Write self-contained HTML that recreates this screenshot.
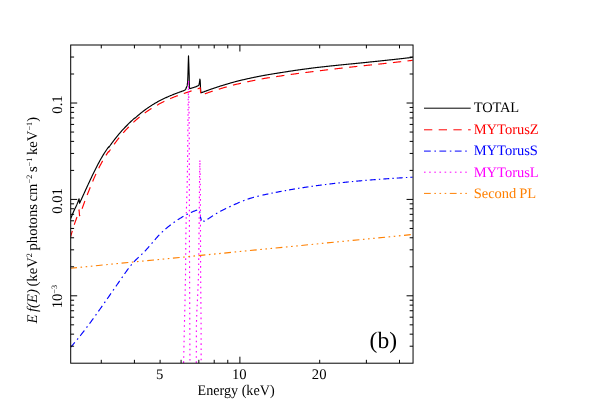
<!DOCTYPE html>
<html><head><meta charset="utf-8"><title>plot</title>
<style>html,body{margin:0;padding:0;background:#fff}body{width:598px;height:402px;position:relative;overflow:hidden;font-family:"Liberation Serif",serif}</style>
</head><body>
<svg width="598" height="402" viewBox="0 0 598 402" style="position:absolute;left:0;top:0;font-family:'Liberation Serif',serif;font-size:14.67px;text-rendering:geometricPrecision;will-change:transform;opacity:0.999">
<defs><clipPath id="c"><rect x="70.7" y="45.0" width="342.35" height="318.2"/></clipPath></defs>
<g clip-path="url(#c)" fill="none" stroke-width="1.15" stroke-linejoin="round">
<path d="M70.70,218.50 L71.22,217.22 L71.74,215.96 L72.27,214.71 L72.79,213.49 L73.31,212.28 L73.83,211.10 L74.35,209.93 L74.88,208.79 L75.40,207.72 L75.92,206.66 L76.44,205.56 L76.96,204.39 L77.48,203.11 L78.01,201.74 L78.53,200.30 L79.05,198.80 L79.55,203.29 L80.05,202.19 L80.55,201.09 L81.05,199.99 L81.55,198.89 L82.05,197.79 L82.56,196.69 L83.06,195.59 L83.56,194.49 L84.06,193.38 L84.56,192.28 L85.06,191.18 L85.56,190.09 L86.06,188.99 L86.56,187.90 L87.06,186.81 L87.56,185.72 L88.06,184.63 L88.57,183.55 L89.07,182.47 L89.57,181.40 L90.07,180.33 L90.57,179.26 L91.07,178.20 L91.57,177.15 L92.07,176.10 L92.57,175.06 L93.07,174.02 L93.57,172.99 L94.07,171.96 L94.58,170.95 L95.08,169.94 L95.58,168.94 L96.08,167.95 L96.58,166.96 L97.08,165.99 L97.58,165.02 L98.08,164.07 L98.58,163.12 L99.08,162.18 L99.58,161.26 L100.09,160.34 L100.59,159.45 L101.09,158.57 L101.59,157.70 L102.09,156.85 L102.59,156.00 L103.09,155.17 L103.59,154.35 L104.09,153.55 L104.59,152.76 L105.09,151.98 L105.59,151.21 L106.10,150.46 L106.60,149.73 L107.10,149.01 L107.60,148.31 L108.10,147.62 L108.60,146.95 L108.80,147.39 L109.30,146.67 L109.80,145.96 L110.31,145.26 L110.81,144.56 L111.31,143.87 L111.81,143.19 L112.32,142.51 L112.82,141.84 L113.32,141.17 L113.82,140.51 L114.32,139.85 L114.83,139.20 L115.33,138.56 L115.83,137.92 L116.33,137.29 L116.84,136.67 L117.34,136.05 L117.84,135.43 L118.34,134.83 L118.84,134.22 L119.35,133.63 L119.85,133.04 L120.35,132.45 L120.85,131.87 L121.35,131.30 L121.86,130.73 L122.36,130.18 L122.86,129.64 L123.36,129.10 L123.87,128.57 L124.37,128.04 L124.87,127.52 L125.37,127.01 L125.87,126.50 L126.38,125.99 L126.88,125.49 L127.38,124.98 L127.88,124.47 L128.39,123.96 L128.89,123.46 L129.39,122.96 L129.89,122.47 L130.39,121.99 L130.90,121.51 L131.40,121.03 L131.90,120.56 L132.40,120.09 L132.91,119.63 L133.41,119.17 L133.91,118.72 L134.41,118.27 L134.60,118.11 L134.91,118.14 L135.00,118.15 L135.42,117.77 L135.92,117.32 L136.42,116.87 L136.92,116.43 L137.43,115.99 L137.93,115.56 L138.43,115.13 L138.93,114.70 L139.43,114.28 L139.94,113.86 L140.44,113.45 L140.94,113.04 L141.44,112.64 L141.95,112.24 L142.45,111.85 L142.95,111.46 L143.45,111.08 L143.95,110.70 L144.46,110.32 L144.96,109.95 L145.46,109.58 L145.96,109.22 L146.46,108.86 L146.97,108.50 L147.47,108.15 L147.97,107.80 L148.47,107.46 L148.98,107.11 L149.48,106.78 L149.98,106.44 L150.48,106.11 L150.98,105.78 L151.49,105.46 L151.99,105.14 L152.49,104.82 L152.99,104.51 L153.50,104.20 L154.00,103.89 L154.50,103.58 L155.00,103.28 L155.50,103.00 L156.01,102.71 L156.51,102.43 L157.01,102.15 L157.51,101.87 L158.02,101.60 L158.52,101.33 L159.02,101.06 L159.52,100.80 L160.02,100.54 L160.53,100.28 L161.03,100.02 L161.53,99.77 L162.03,99.52 L162.54,99.27 L163.04,99.02 L163.54,98.78 L164.04,98.54 L164.54,98.30 L165.05,98.07 L165.55,97.84 L166.05,97.61 L166.55,97.38 L167.05,97.15 L167.56,96.93 L168.06,96.71 L168.56,96.49 L169.06,96.27 L169.57,96.06 L170.07,95.84 L170.57,95.63 L171.07,95.42 L171.57,95.21 L172.08,95.01 L172.58,94.80 L173.08,94.60 L173.58,94.40 L174.09,94.20 L174.59,94.00 L175.09,93.81 L175.59,93.61 L176.09,93.42 L176.60,93.23 L177.10,93.04 L177.60,92.86 L178.10,92.67 L178.61,92.49 L179.11,92.30 L179.61,92.12 L180.11,91.94 L180.61,91.77 L181.12,91.59 L181.62,91.41 L182.12,91.24 L182.62,91.07 L183.13,90.89 L183.60,90.67 L183.63,90.66 L183.63,90.66 L183.66,90.64 L183.70,90.63 L183.73,90.62 L183.76,90.60 L183.79,90.59 L183.83,90.57 L183.86,90.56 L183.89,90.55 L183.92,90.53 L183.95,90.52 L183.99,90.50 L184.02,90.49 L184.05,90.48 L184.08,90.46 L184.11,90.45 L184.13,90.44 L184.15,90.43 L184.18,90.42 L184.21,90.40 L184.24,90.39 L184.28,90.37 L184.31,90.36 L184.34,90.34 L184.37,90.32 L184.40,90.31 L184.44,90.29 L184.47,90.28 L184.50,90.26 L184.53,90.25 L184.56,90.23 L184.60,90.21 L184.63,90.20 L184.63,90.20 L184.66,90.18 L184.69,90.16 L184.73,90.15 L184.76,90.13 L184.79,90.11 L184.82,90.10 L184.85,90.08 L184.89,90.06 L184.92,90.04 L184.95,90.02 L184.98,90.00 L185.02,89.98 L185.05,89.96 L185.08,89.93 L185.11,89.91 L185.13,89.89 L185.14,89.89 L185.18,89.86 L185.21,89.84 L185.24,89.81 L185.27,89.79 L185.30,89.76 L185.34,89.74 L185.37,89.71 L185.40,89.68 L185.43,89.65 L185.47,89.62 L185.50,89.59 L185.53,89.56 L185.56,89.53 L185.59,89.50 L185.63,89.43 L185.64,89.40 L185.66,89.34 L185.69,89.25 L185.72,89.14 L185.75,89.03 L185.79,88.90 L185.82,88.81 L185.85,88.75 L185.88,88.68 L185.92,88.62 L185.95,88.55 L185.98,88.48 L186.01,88.40 L186.04,88.33 L186.08,88.25 L186.11,88.17 L186.14,88.11 L186.14,88.11 L186.17,88.04 L186.21,87.98 L186.24,87.91 L186.27,87.84 L186.30,87.77 L186.33,87.70 L186.37,87.62 L186.40,87.54 L186.43,87.47 L186.46,87.39 L186.49,87.30 L186.53,87.23 L186.56,87.16 L186.59,87.09 L186.62,87.02 L186.64,86.98 L186.66,86.94 L186.69,86.87 L186.72,86.79 L186.75,86.71 L186.78,86.63 L186.82,86.55 L186.85,86.47 L186.88,86.38 L186.91,86.29 L186.94,86.21 L186.98,86.12 L187.01,86.02 L187.04,85.93 L187.07,85.83 L187.11,85.72 L187.14,85.55 L187.14,85.53 L187.17,85.38 L187.20,85.19 L187.23,85.00 L187.27,84.81 L187.30,84.60 L187.33,84.39 L187.36,84.17 L187.39,83.94 L187.43,83.71 L187.46,83.46 L187.49,83.21 L187.52,82.95 L187.56,82.68 L187.59,82.39 L187.62,81.96 L187.65,81.54 L187.65,81.41 L187.68,80.83 L187.72,80.21 L187.75,79.55 L187.78,78.85 L187.81,78.10 L187.85,77.32 L187.88,76.48 L187.91,75.60 L187.94,74.67 L187.97,73.69 L188.01,72.66 L188.04,71.57 L188.07,70.43 L188.10,69.23 L188.13,67.97 L188.15,67.46 L188.17,66.66 L188.20,65.28 L188.23,64.33 L188.26,63.36 L188.30,62.37 L188.33,61.35 L188.36,60.31 L188.39,59.24 L188.42,58.14 L188.46,57.02 L188.49,55.87 L188.52,56.09 L188.55,57.06 L188.58,58.01 L188.62,58.95 L188.65,59.86 L188.65,59.87 L188.68,60.75 L188.71,61.63 L188.75,62.48 L188.78,63.32 L188.81,64.13 L188.84,64.93 L188.87,66.01 L188.91,67.14 L188.94,68.24 L188.97,69.28 L189.00,70.29 L189.04,71.25 L189.07,72.18 L189.10,73.06 L189.13,73.90 L189.15,74.40 L189.16,74.70 L189.20,75.47 L189.23,78.33 L189.26,80.87 L189.29,82.83 L189.32,84.33 L189.36,85.52 L189.39,86.53 L189.42,87.24 L189.45,87.70 L189.49,87.87 L189.52,88.02 L189.55,88.14 L189.58,88.23 L189.61,88.31 L189.65,88.37 L189.65,88.39 L189.68,88.42 L189.71,88.46 L189.74,88.50 L189.77,88.52 L189.81,88.54 L189.84,88.55 L189.87,88.56 L189.90,88.57 L189.94,88.57 L189.97,88.63 L190.00,88.62 L190.16,88.57 L190.66,88.41 L191.16,88.25 L191.66,88.09 L192.16,87.93 L192.67,87.77 L193.17,87.61 L193.67,87.46 L194.17,87.30 L194.68,87.14 L195.18,86.99 L195.68,86.83 L196.18,86.67 L196.30,86.58 L196.33,86.55 L196.37,86.52 L196.40,86.47 L196.43,86.45 L196.46,86.44 L196.50,86.43 L196.53,86.41 L196.56,86.40 L196.59,86.39 L196.63,86.37 L196.66,86.36 L196.68,86.35 L196.69,86.34 L196.72,86.33 L196.76,86.32 L196.79,86.30 L196.82,86.29 L196.85,86.27 L196.89,86.26 L196.92,86.24 L196.95,86.23 L196.98,86.22 L197.02,86.21 L197.05,86.19 L197.08,86.18 L197.11,86.17 L197.15,86.15 L197.18,86.14 L197.19,86.14 L197.21,86.13 L197.24,86.11 L197.28,86.10 L197.31,86.09 L197.34,86.07 L197.37,86.06 L197.41,86.05 L197.44,86.03 L197.47,86.02 L197.50,86.00 L197.54,85.99 L197.57,85.98 L197.60,85.96 L197.63,85.95 L197.67,85.93 L197.69,85.92 L197.70,85.92 L197.73,85.90 L197.76,85.89 L197.80,85.87 L197.83,85.86 L197.86,85.84 L197.89,85.82 L197.93,85.81 L197.96,85.79 L197.99,85.77 L198.03,85.76 L198.06,85.74 L198.09,85.72 L198.12,85.71 L198.16,85.69 L198.19,85.67 L198.19,85.67 L198.22,85.65 L198.25,85.64 L198.29,85.62 L198.30,85.61 L198.32,85.60 L198.35,85.58 L198.38,85.56 L198.42,85.55 L198.45,85.53 L198.48,85.51 L198.51,85.49 L198.55,85.47 L198.58,85.45 L198.61,85.42 L198.64,85.38 L198.68,85.33 L198.69,85.30 L198.71,85.28 L198.74,85.23 L198.77,85.17 L198.81,85.11 L198.84,85.05 L198.87,84.98 L198.90,84.91 L198.94,84.84 L198.97,84.76 L199.00,84.68 L199.03,84.59 L199.07,84.50 L199.10,84.40 L199.13,84.27 L199.16,84.14 L199.20,84.00 L199.20,83.99 L199.23,83.83 L199.26,83.66 L199.29,83.48 L199.33,83.29 L199.36,83.08 L199.39,82.85 L199.42,82.61 L199.46,82.34 L199.49,82.06 L199.52,81.76 L199.56,81.43 L199.59,81.08 L199.62,80.83 L199.65,80.64 L199.69,80.44 L199.70,80.37 L199.72,80.24 L199.75,80.04 L199.78,79.82 L199.82,79.60 L199.85,79.37 L199.88,79.14 L199.91,79.10 L199.95,79.37 L199.98,79.62 L200.01,79.86 L200.04,80.09 L200.08,80.32 L200.11,80.53 L200.14,80.73 L200.17,80.96 L200.20,81.15 L200.21,81.26 L200.24,81.80 L200.27,82.34 L200.30,82.87 L200.34,83.39 L200.37,84.24 L200.40,85.21 L200.43,86.06 L200.47,86.80 L200.50,87.46 L200.53,88.06 L200.56,88.60 L200.60,89.11 L200.63,89.51 L200.66,89.89 L200.69,90.28 L200.73,90.66 L200.76,91.04 L200.79,91.42 L200.82,91.79 L200.86,92.16 L200.89,92.53 L200.90,92.65 L200.92,92.66 L200.95,92.67 L200.99,92.68 L201.02,92.68 L201.05,92.68 L201.08,92.69 L201.12,92.72 L201.15,92.77 L201.40,92.73 L201.60,92.66 L201.90,92.54 L202.40,92.35 L202.90,92.16 L203.40,91.96 L203.90,91.77 L204.10,91.70 L204.40,91.59 L204.90,91.40 L205.40,91.21 L205.90,91.03 L206.41,90.84 L206.91,90.66 L207.41,90.48 L207.91,90.29 L208.41,90.11 L208.91,89.93 L209.41,89.76 L209.91,89.58 L210.41,89.40 L210.91,89.23 L211.41,89.05 L211.91,88.88 L212.41,88.71 L212.91,88.53 L213.41,88.36 L213.91,88.19 L214.41,88.02 L214.91,87.86 L215.41,87.69 L215.91,87.52 L216.41,87.36 L216.92,87.20 L217.42,87.03 L217.92,86.87 L218.42,86.71 L218.92,86.55 L219.42,86.39 L219.92,86.23 L220.42,86.07 L220.92,85.92 L221.42,85.76 L221.92,85.60 L222.42,85.45 L222.92,85.30 L223.42,85.15 L223.92,84.99 L224.42,84.84 L224.92,84.69 L225.42,84.54 L225.92,84.39 L226.42,84.24 L226.92,84.09 L227.42,83.94 L227.93,83.79 L228.43,83.64 L228.93,83.49 L229.43,83.35 L229.93,83.20 L230.43,83.06 L230.93,82.91 L231.43,82.77 L231.93,82.63 L232.43,82.49 L232.93,82.35 L233.43,82.21 L233.93,82.07 L234.43,81.93 L234.93,81.79 L235.43,81.66 L235.93,81.53 L236.43,81.41 L236.93,81.28 L237.43,81.15 L237.93,81.03 L238.44,80.90 L238.94,80.78 L239.44,80.66 L239.94,80.53 L240.44,80.41 L240.94,80.29 L241.44,80.17 L241.94,80.05 L242.44,79.93 L242.94,79.81 L243.44,79.70 L243.94,79.58 L244.44,79.46 L244.94,79.35 L245.44,79.23 L245.94,79.12 L246.44,79.00 L246.94,78.89 L247.44,78.78 L247.94,78.67 L248.44,78.56 L248.95,78.45 L249.45,78.34 L249.95,78.23 L250.45,78.12 L250.95,78.01 L251.45,77.91 L251.95,77.80 L252.45,77.69 L252.95,77.59 L253.45,77.48 L253.95,77.38 L254.45,77.28 L254.95,77.17 L255.45,77.07 L255.95,76.97 L256.45,76.87 L256.95,76.77 L257.45,76.67 L257.95,76.57 L258.45,76.47 L258.95,76.37 L259.46,76.28 L259.96,76.18 L260.46,76.08 L260.96,75.99 L261.46,75.89 L261.96,75.80 L262.00,75.79 L262.46,75.70 L262.96,75.61 L263.46,75.52 L263.96,75.42 L264.46,75.33 L264.96,75.24 L265.46,75.15 L265.96,75.06 L266.46,74.97 L266.96,74.89 L267.46,74.80 L267.96,74.71 L268.46,74.63 L268.96,74.54 L269.46,74.46 L269.96,74.37 L270.47,74.29 L270.97,74.21 L271.47,74.12 L271.97,74.04 L272.47,73.96 L272.97,73.88 L273.47,73.80 L273.97,73.71 L274.47,73.63 L274.97,73.55 L275.47,73.47 L275.97,73.40 L276.47,73.32 L276.97,73.24 L277.47,73.16 L277.97,73.08 L278.47,73.01 L278.97,72.93 L279.47,72.85 L279.97,72.78 L280.47,72.69 L280.98,72.61 L281.48,72.53 L281.98,72.45 L282.48,72.37 L282.98,72.29 L283.48,72.21 L283.98,72.12 L284.48,72.04 L284.98,71.97 L285.48,71.89 L285.98,71.81 L286.48,71.73 L286.98,71.65 L287.48,71.57 L287.98,71.49 L288.48,71.42 L288.98,71.34 L289.48,71.26 L289.98,71.19 L290.48,71.11 L290.98,71.04 L291.49,70.96 L291.99,70.88 L292.49,70.81 L292.99,70.74 L293.49,70.66 L293.99,70.59 L294.49,70.51 L294.99,70.44 L295.49,70.37 L295.99,70.29 L296.49,70.22 L296.99,70.15 L297.49,70.08 L297.99,70.01 L298.49,69.94 L298.99,69.86 L299.49,69.79 L299.99,69.72 L300.49,69.65 L300.99,69.58 L301.49,69.51 L302.00,69.44 L302.50,69.38 L303.00,69.31 L303.50,69.24 L304.00,69.17 L304.50,69.10 L305.00,69.03 L305.50,68.97 L306.00,68.90 L306.50,68.83 L307.00,68.77 L307.50,68.70 L308.00,68.63 L308.50,68.57 L309.00,68.50 L309.50,68.44 L310.00,68.37 L310.50,68.31 L311.00,68.24 L311.50,68.18 L312.00,68.11 L312.50,68.05 L313.01,67.98 L313.51,67.92 L314.01,67.86 L314.51,67.79 L315.01,67.73 L315.51,67.67 L316.01,67.61 L316.51,67.55 L317.01,67.50 L317.51,67.44 L318.01,67.38 L318.51,67.32 L319.01,67.26 L319.51,67.21 L320.01,67.15 L320.51,67.09 L321.01,67.04 L321.51,66.98 L322.01,66.92 L322.51,66.87 L323.01,66.81 L323.52,66.76 L324.02,66.70 L324.52,66.64 L325.02,66.59 L325.52,66.53 L326.02,66.48 L326.52,66.42 L327.02,66.37 L327.52,66.32 L328.02,66.26 L328.52,66.21 L329.02,66.15 L329.52,66.10 L330.02,66.05 L330.52,65.99 L331.02,65.94 L331.52,65.89 L332.02,65.83 L332.52,65.78 L333.02,65.73 L333.52,65.67 L334.03,65.62 L334.53,65.57 L335.03,65.52 L335.53,65.47 L336.03,65.41 L336.53,65.36 L337.03,65.31 L337.53,65.26 L338.03,65.21 L338.53,65.16 L339.03,65.10 L339.53,65.05 L340.03,65.00 L340.53,64.95 L341.03,64.90 L341.53,64.85 L342.03,64.80 L342.53,64.75 L343.03,64.70 L343.53,64.65 L344.03,64.60 L344.54,64.55 L345.04,64.50 L345.54,64.45 L346.04,64.40 L346.54,64.35 L347.04,64.30 L347.54,64.25 L348.04,64.20 L348.54,64.15 L349.04,64.10 L349.54,64.05 L350.04,64.00 L350.54,63.96 L351.04,63.91 L351.54,63.86 L352.04,63.81 L352.54,63.76 L353.04,63.71 L353.54,63.66 L354.04,63.61 L354.54,63.57 L355.04,63.52 L355.55,63.47 L356.05,63.42 L356.55,63.37 L357.05,63.32 L357.55,63.28 L358.05,63.23 L358.55,63.18 L359.05,63.13 L359.55,63.08 L360.05,63.04 L360.55,62.98 L361.05,62.93 L361.55,62.88 L362.05,62.83 L362.55,62.77 L363.05,62.72 L363.55,62.67 L364.05,62.62 L364.55,62.57 L365.05,62.51 L365.55,62.46 L366.06,62.41 L366.56,62.36 L367.06,62.31 L367.56,62.25 L368.06,62.20 L368.56,62.15 L369.06,62.10 L369.56,62.05 L370.06,61.99 L370.56,61.94 L371.06,61.89 L371.56,61.84 L372.06,61.79 L372.56,61.73 L373.06,61.68 L373.56,61.63 L374.06,61.58 L374.56,61.53 L375.06,61.47 L375.56,61.42 L376.06,61.37 L376.57,61.32 L377.07,61.26 L377.57,61.21 L378.07,61.16 L378.57,61.11 L379.07,61.06 L379.57,61.00 L380.07,60.95 L380.57,60.90 L381.07,60.84 L381.57,60.79 L382.07,60.74 L382.57,60.69 L383.07,60.63 L383.57,60.58 L384.07,60.53 L384.57,60.47 L385.07,60.42 L385.57,60.37 L386.07,60.31 L386.57,60.26 L387.08,60.21 L387.58,60.15 L388.08,60.10 L388.58,60.05 L389.08,59.99 L389.58,59.94 L390.08,59.89 L390.58,59.83 L391.08,59.78 L391.58,59.72 L392.08,59.67 L392.58,59.61 L393.08,59.56 L393.58,59.50 L394.08,59.45 L394.58,59.40 L395.08,59.34 L395.58,59.29 L396.08,59.23 L396.58,59.17 L397.08,59.12 L397.58,59.06 L398.09,59.01 L398.59,58.95 L399.09,58.90 L399.59,58.84 L400.09,58.78 L400.59,58.73 L401.09,58.67 L401.59,58.62 L402.09,58.56 L402.59,58.50 L403.09,58.45 L403.59,58.39 L404.09,58.34 L404.59,58.28 L405.09,58.22 L405.59,58.16 L406.09,58.11 L406.59,58.05 L407.09,57.99 L407.59,57.93 L408.09,57.88 L408.60,57.82 L409.10,57.76 L409.60,57.70 L410.10,57.64 L410.60,57.58 L411.10,57.53 L411.60,57.47 L412.10,57.41 L412.60,57.35" stroke="#000"/>
<path d="M70.70,236.62 L71.22,234.72 L71.74,232.88 L72.27,231.09 L72.79,229.35 L73.31,227.66 L73.83,226.01 L74.35,224.40 L74.88,222.86 L75.40,221.42 L75.92,220.00 L76.44,218.56 L76.96,217.01 L77.48,215.34 L78.01,213.57 L78.53,211.71 L79.05,209.79 L79.55,215.78 L80.05,214.35 L80.55,212.94 L81.05,211.53 L81.55,210.13 L82.05,208.74 L82.56,207.36 L83.06,205.99 L83.56,204.62 L84.06,203.26 L84.56,201.92 L85.06,200.58 L85.56,199.25 L86.06,197.92 L86.56,196.61 L87.06,195.31 L87.56,194.02 L88.06,192.73 L88.57,191.46 L89.07,190.20 L89.57,188.94 L90.07,187.70 L90.57,186.46 L91.07,185.24 L91.57,184.03 L92.07,182.83 L92.57,181.64 L93.07,180.46 L93.57,179.29 L94.07,178.13 L94.58,176.99 L95.08,175.86 L95.58,174.78 L96.08,173.70 L96.58,172.64 L97.08,171.59 L97.58,170.56 L98.08,169.54 L98.58,168.53 L99.08,167.53 L99.58,166.55 L100.09,165.59 L100.59,164.64 L101.09,163.70 L101.59,162.78 L102.09,161.88 L102.59,160.99 L103.09,160.11 L103.59,159.26 L104.09,158.41 L104.59,157.59 L105.09,156.77 L105.59,155.96 L106.10,155.17 L106.60,154.39 L107.10,153.63 L107.60,152.89 L108.10,152.17 L108.60,151.46 L108.80,151.96 L109.30,151.20 L109.80,150.46 L110.31,149.72 L110.81,148.99 L111.31,148.27 L111.81,147.55 L112.32,146.84 L112.82,146.12 L113.32,145.41 L113.82,144.71 L114.32,144.02 L114.83,143.33 L115.33,142.65 L115.83,141.98 L116.33,141.31 L116.84,140.65 L117.34,140.00 L117.84,139.35 L118.34,138.71 L118.84,138.08 L119.35,137.46 L119.85,136.84 L120.35,136.22 L120.85,135.62 L121.35,135.02 L121.86,134.42 L122.36,133.84 L122.86,133.26 L123.36,132.69 L123.87,132.12 L124.37,131.56 L124.87,131.00 L125.37,130.45 L125.87,129.91 L126.38,129.37 L126.88,128.84 L127.38,128.31 L127.88,127.78 L128.39,127.27 L128.89,126.75 L129.39,126.24 L129.89,125.74 L130.39,125.24 L130.90,124.75 L131.40,124.26 L131.90,123.78 L132.40,123.30 L132.91,122.83 L133.41,122.36 L133.91,121.90 L134.41,121.44 L134.60,121.27 L134.91,121.00 L135.00,120.93 L135.42,120.55 L135.92,120.11 L136.42,119.67 L136.92,119.23 L137.43,118.80 L137.93,118.38 L138.43,117.96 L138.93,117.54 L139.43,117.13 L139.94,116.72 L140.44,116.32 L140.94,115.92 L141.44,115.53 L141.95,115.14 L142.45,114.75 L142.95,114.36 L143.45,113.98 L143.95,113.60 L144.46,113.23 L144.96,112.86 L145.46,112.50 L145.96,112.14 L146.46,111.78 L146.97,111.43 L147.47,111.09 L147.97,110.75 L148.47,110.41 L148.98,110.08 L149.48,109.75 L149.98,109.42 L150.48,109.10 L150.98,108.78 L151.49,108.47 L151.99,108.16 L152.49,107.85 L152.99,107.55 L153.50,107.25 L154.00,106.96 L154.50,106.66 L155.00,106.37 L155.50,106.08 L156.01,105.78 L156.51,105.49 L157.01,105.20 L157.51,104.92 L158.02,104.64 L158.52,104.36 L159.02,104.08 L159.52,103.81 L160.02,103.54 L160.53,103.27 L161.03,103.01 L161.53,102.74 L162.03,102.48 L162.54,102.22 L163.04,101.97 L163.54,101.72 L164.04,101.47 L164.54,101.22 L165.05,100.97 L165.55,100.73 L166.05,100.49 L166.55,100.25 L167.05,100.02 L167.56,99.78 L168.06,99.55 L168.56,99.32 L169.06,99.09 L169.57,98.87 L170.07,98.65 L170.57,98.44 L171.07,98.23 L171.57,98.02 L172.08,97.82 L172.58,97.61 L173.08,97.41 L173.58,97.22 L174.09,97.02 L174.59,96.82 L175.09,96.63 L175.59,96.44 L176.09,96.25 L176.60,96.06 L177.10,95.87 L177.60,95.68 L178.10,95.50 L178.61,95.32 L179.11,95.14 L179.61,94.96 L180.11,94.78 L180.61,94.60 L181.12,94.42 L181.62,94.25 L182.12,94.08 L182.62,93.90 L183.13,93.73 L183.60,93.57 L183.63,93.56 L183.63,93.56 L183.66,93.55 L183.70,93.54 L183.73,93.53 L183.76,93.52 L183.79,93.50 L183.83,93.49 L183.86,93.48 L183.89,93.47 L183.92,93.46 L183.95,93.45 L183.99,93.44 L184.02,93.43 L184.05,93.42 L184.08,93.41 L184.11,93.40 L184.13,93.39 L184.15,93.38 L184.18,93.37 L184.21,93.36 L184.24,93.35 L184.28,93.34 L184.31,93.33 L184.34,93.32 L184.37,93.31 L184.40,93.30 L184.44,93.29 L184.47,93.28 L184.50,93.27 L184.53,93.26 L184.56,93.24 L184.60,93.23 L184.63,93.22 L184.63,93.22 L184.66,93.21 L184.69,93.20 L184.73,93.19 L184.76,93.18 L184.79,93.17 L184.82,93.16 L184.85,93.15 L184.89,93.14 L184.92,93.13 L184.95,93.12 L184.98,93.10 L185.02,93.09 L185.05,93.08 L185.08,93.07 L185.11,93.06 L185.13,93.05 L185.14,93.05 L185.18,93.04 L185.21,93.03 L185.24,93.01 L185.27,93.00 L185.30,92.99 L185.34,92.98 L185.37,92.97 L185.40,92.96 L185.43,92.95 L185.47,92.94 L185.50,92.93 L185.53,92.91 L185.56,92.90 L185.59,92.89 L185.63,92.88 L185.64,92.88 L185.66,92.87 L185.69,92.86 L185.72,92.85 L185.75,92.84 L185.79,92.82 L185.82,92.81 L185.85,92.80 L185.88,92.79 L185.92,92.78 L185.95,92.77 L185.98,92.76 L186.01,92.75 L186.04,92.74 L186.08,92.72 L186.11,92.71 L186.14,92.70 L186.14,92.70 L186.17,92.69 L186.21,92.68 L186.24,92.67 L186.27,92.66 L186.30,92.65 L186.33,92.64 L186.37,92.62 L186.40,92.61 L186.43,92.60 L186.46,92.59 L186.49,92.58 L186.53,92.57 L186.56,92.56 L186.59,92.55 L186.62,92.54 L186.64,92.53 L186.66,92.52 L186.69,92.51 L186.72,92.50 L186.75,92.49 L186.78,92.48 L186.82,92.47 L186.85,92.46 L186.88,92.45 L186.91,92.44 L186.94,92.42 L186.98,92.41 L187.01,92.40 L187.04,92.39 L187.07,92.38 L187.11,92.37 L187.14,92.36 L187.14,92.36 L187.17,92.35 L187.20,92.34 L187.23,92.33 L187.27,92.31 L187.30,92.30 L187.33,92.29 L187.36,92.28 L187.39,92.27 L187.43,92.26 L187.46,92.25 L187.49,92.24 L187.52,92.23 L187.56,92.22 L187.59,92.20 L187.62,92.19 L187.65,92.18 L187.65,92.18 L187.68,92.17 L187.72,92.16 L187.75,92.15 L187.78,92.14 L187.81,92.13 L187.85,92.12 L187.88,92.11 L187.91,92.09 L187.94,92.08 L187.97,92.07 L188.01,92.06 L188.04,92.05 L188.07,92.04 L188.10,92.03 L188.13,92.02 L188.15,92.01 L188.17,92.01 L188.20,92.00 L188.23,91.99 L188.26,91.97 L188.30,91.96 L188.33,91.95 L188.36,91.94 L188.39,91.93 L188.42,91.92 L188.46,91.91 L188.49,91.90 L188.52,91.89 L188.55,91.88 L188.58,91.87 L188.62,91.85 L188.65,91.84 L188.65,91.84 L188.68,91.83 L188.71,91.82 L188.75,91.81 L188.78,91.80 L188.81,91.79 L188.84,91.78 L188.87,91.77 L188.91,91.76 L188.94,91.75 L188.97,91.73 L189.00,91.72 L189.04,91.71 L189.07,91.70 L189.10,91.69 L189.13,91.68 L189.15,91.67 L189.16,91.67 L189.20,91.66 L189.23,91.65 L189.26,91.64 L189.29,91.63 L189.32,91.61 L189.36,91.60 L189.39,91.59 L189.42,91.58 L189.45,91.57 L189.49,91.56 L189.52,91.55 L189.55,91.54 L189.58,91.53 L189.61,91.52 L189.65,91.51 L189.65,91.50 L189.68,91.50 L189.71,91.48 L189.74,91.47 L189.77,91.46 L189.81,91.45 L189.84,91.44 L189.87,91.43 L189.90,91.42 L189.94,91.41 L189.97,91.40 L190.00,91.39 L190.16,91.33 L190.66,91.17 L191.16,91.00 L191.66,90.83 L192.16,90.66 L192.67,90.50 L193.17,90.33 L193.67,90.16 L194.17,90.00 L194.68,89.83 L195.18,89.66 L195.68,89.50 L196.18,89.33 L196.30,89.29 L196.33,89.28 L196.37,89.27 L196.40,89.26 L196.43,89.25 L196.46,89.24 L196.50,89.23 L196.53,89.22 L196.56,89.21 L196.59,89.20 L196.63,89.19 L196.66,89.18 L196.68,89.17 L196.69,89.16 L196.72,89.15 L196.76,89.14 L196.79,89.13 L196.82,89.12 L196.85,89.11 L196.89,89.10 L196.92,89.09 L196.95,89.08 L196.98,89.07 L197.02,89.06 L197.05,89.05 L197.08,89.04 L197.11,89.02 L197.15,89.01 L197.18,89.00 L197.19,89.00 L197.21,88.99 L197.24,88.98 L197.28,88.97 L197.31,88.96 L197.34,88.95 L197.37,88.94 L197.41,88.93 L197.44,88.92 L197.47,88.91 L197.50,88.90 L197.54,88.88 L197.57,88.87 L197.60,88.86 L197.63,88.85 L197.67,88.84 L197.69,88.83 L197.70,88.83 L197.73,88.82 L197.76,88.81 L197.80,88.80 L197.83,88.79 L197.86,88.78 L197.89,88.77 L197.93,88.76 L197.96,88.74 L197.99,88.73 L198.03,88.72 L198.06,88.71 L198.09,88.70 L198.12,88.69 L198.16,88.68 L198.19,88.67 L198.19,88.67 L198.22,88.66 L198.25,88.65 L198.29,88.64 L198.30,88.63 L198.32,88.62 L198.35,88.60 L198.38,88.59 L198.42,88.58 L198.45,88.57 L198.48,88.56 L198.51,88.54 L198.55,88.53 L198.58,88.52 L198.61,88.51 L198.64,88.50 L198.68,88.48 L198.69,88.48 L198.71,88.47 L198.74,88.46 L198.77,88.45 L198.81,88.43 L198.84,88.42 L198.87,88.41 L198.90,88.39 L198.94,88.38 L198.97,88.37 L199.00,88.36 L199.03,88.34 L199.07,88.33 L199.10,88.32 L199.13,88.30 L199.16,88.29 L199.20,88.28 L199.20,88.28 L199.23,88.26 L199.26,88.25 L199.29,88.23 L199.33,88.22 L199.36,88.20 L199.39,88.18 L199.42,88.17 L199.46,88.15 L199.49,88.13 L199.52,88.12 L199.56,88.10 L199.59,88.08 L199.62,88.06 L199.65,88.04 L199.69,88.02 L199.70,88.02 L199.72,88.00 L199.75,87.98 L199.78,87.96 L199.82,87.94 L199.85,87.92 L199.88,87.89 L199.91,87.87 L199.95,87.84 L199.98,87.82 L200.01,87.79 L200.04,87.77 L200.08,87.75 L200.11,87.72 L200.14,87.70 L200.17,87.68 L200.20,87.67 L200.21,87.73 L200.24,88.10 L200.27,88.46 L200.30,88.82 L200.34,89.19 L200.37,89.55 L200.40,89.92 L200.43,90.28 L200.47,90.64 L200.50,91.01 L200.53,91.37 L200.56,91.74 L200.60,92.11 L200.63,92.47 L200.66,92.84 L200.69,93.21 L200.73,93.57 L200.76,93.94 L200.79,94.31 L200.82,94.68 L200.86,95.05 L200.89,95.42 L200.90,95.53" stroke="#f00" stroke-dasharray="8.27 6.365" stroke-dashoffset="2.3"/>
<path d="M200.90,95.53 L200.92,95.52 L200.95,95.50 L200.99,95.49 L201.02,95.47 L201.05,95.45 L201.08,95.43 L201.12,95.41 L201.15,95.40 L201.40,95.26 L201.60,95.17 L201.90,95.03 L202.40,94.82 L202.90,94.61 L203.40,94.40 L203.90,94.20 L204.10,94.12 L204.40,94.00 L204.90,93.81 L205.40,93.63 L205.90,93.45 L206.41,93.27 L206.91,93.09 L207.41,92.92 L207.91,92.74 L208.41,92.57 L208.91,92.40 L209.41,92.22 L209.91,92.05 L210.41,91.88 L210.91,91.72 L211.41,91.55 L211.91,91.38 L212.41,91.22 L212.91,91.06 L213.41,90.89 L213.91,90.73 L214.41,90.57 L214.91,90.41 L215.41,90.25 L215.91,90.09 L216.41,89.94 L216.92,89.78 L217.42,89.62 L217.92,89.47 L218.42,89.31 L218.92,89.16 L219.42,89.01 L219.92,88.85 L220.42,88.70 L220.92,88.55 L221.42,88.40 L221.92,88.25 L222.42,88.10 L222.92,87.96 L223.42,87.81 L223.92,87.66 L224.42,87.52 L224.92,87.37 L225.42,87.23 L225.92,87.09 L226.42,86.95 L226.92,86.80 L227.42,86.66 L227.93,86.53 L228.43,86.39 L228.93,86.25 L229.43,86.11 L229.93,85.98 L230.43,85.84 L230.93,85.71 L231.43,85.58 L231.93,85.44 L232.43,85.31 L232.93,85.18 L233.43,85.05 L233.93,84.92 L234.43,84.80 L234.93,84.67 L235.43,84.55 L235.93,84.42 L236.43,84.30 L236.93,84.18 L237.43,84.06 L237.93,83.94 L238.44,83.82 L238.94,83.70 L239.44,83.59 L239.94,83.47 L240.44,83.35 L240.94,83.24 L241.44,83.12 L241.94,83.01 L242.44,82.90 L242.94,82.78 L243.44,82.67 L243.94,82.56 L244.44,82.45 L244.94,82.34 L245.44,82.23 L245.94,82.12 L246.44,82.01 L246.94,81.90 L247.44,81.79 L247.94,81.68 L248.44,81.58 L248.95,81.47 L249.45,81.36 L249.95,81.26 L250.45,81.15 L250.95,81.05 L251.45,80.95 L251.95,80.84 L252.45,80.74 L252.95,80.64 L253.45,80.54 L253.95,80.44 L254.45,80.34 L254.95,80.24 L255.45,80.14 L255.95,80.04 L256.45,79.94 L256.95,79.84 L257.45,79.74 L257.95,79.65 L258.45,79.55 L258.95,79.45 L259.46,79.36 L259.96,79.26 L260.46,79.17 L260.96,79.08 L261.46,78.98 L261.96,78.89 L262.00,78.88 L262.46,78.80 L262.96,78.71 L263.46,78.62 L263.96,78.52 L264.46,78.43 L264.96,78.34 L265.46,78.26 L265.96,78.18 L266.46,78.10 L266.96,78.02 L267.46,77.94 L267.96,77.86 L268.46,77.78 L268.96,77.70 L269.46,77.62 L269.96,77.54 L270.47,77.46 L270.97,77.39 L271.47,77.31 L271.97,77.23 L272.47,77.16 L272.97,77.08 L273.47,77.01 L273.97,76.93 L274.47,76.86 L274.97,76.78 L275.47,76.71 L275.97,76.64 L276.47,76.57 L276.97,76.49 L277.47,76.42 L277.97,76.35 L278.47,76.28 L278.97,76.21 L279.47,76.14 L279.97,76.07 L280.47,75.99 L280.98,75.92 L281.48,75.84 L281.98,75.76 L282.48,75.69 L282.98,75.61 L283.48,75.53 L283.98,75.46 L284.48,75.38 L284.98,75.31 L285.48,75.23 L285.98,75.16 L286.48,75.09 L286.98,75.01 L287.48,74.94 L287.98,74.87 L288.48,74.79 L288.98,74.72 L289.48,74.65 L289.98,74.58 L290.48,74.51 L290.98,74.44 L291.49,74.37 L291.99,74.30 L292.49,74.23 L292.99,74.16 L293.49,74.09 L293.99,74.02 L294.49,73.95 L294.99,73.88 L295.49,73.81 L295.99,73.75 L296.49,73.68 L296.99,73.61 L297.49,73.54 L297.99,73.48 L298.49,73.41 L298.99,73.35 L299.49,73.28 L299.99,73.21 L300.49,73.15 L300.99,73.08 L301.49,73.02 L302.00,72.96 L302.50,72.89 L303.00,72.83 L303.50,72.76 L304.00,72.70 L304.50,72.64 L305.00,72.58 L305.50,72.51 L306.00,72.45 L306.50,72.39 L307.00,72.33 L307.50,72.26 L308.00,72.20 L308.50,72.14 L309.00,72.08 L309.50,72.02 L310.00,71.96 L310.50,71.90 L311.00,71.84 L311.50,71.78 L312.00,71.72 L312.50,71.66 L313.01,71.60 L313.51,71.54 L314.01,71.49 L314.51,71.43 L315.01,71.37 L315.51,71.30 L316.01,71.24 L316.51,71.17 L317.01,71.11 L317.51,71.05 L318.01,70.98 L318.51,70.92 L319.01,70.85 L319.51,70.79 L320.01,70.73 L320.51,70.66 L321.01,70.60 L321.51,70.54 L322.01,70.47 L322.51,70.41 L323.01,70.35 L323.52,70.29 L324.02,70.23 L324.52,70.16 L325.02,70.10 L325.52,70.04 L326.02,69.98 L326.52,69.92 L327.02,69.86 L327.52,69.80 L328.02,69.74 L328.52,69.67 L329.02,69.61 L329.52,69.55 L330.02,69.49 L330.52,69.43 L331.02,69.37 L331.52,69.31 L332.02,69.26 L332.52,69.20 L333.02,69.14 L333.52,69.08 L334.03,69.02 L334.53,68.96 L335.03,68.90 L335.53,68.84 L336.03,68.78 L336.53,68.73 L337.03,68.67 L337.53,68.61 L338.03,68.55 L338.53,68.49 L339.03,68.44 L339.53,68.38 L340.03,68.32 L340.53,68.26 L341.03,68.21 L341.53,68.15 L342.03,68.09 L342.53,68.03 L343.03,67.98 L343.53,67.92 L344.03,67.86 L344.54,67.81 L345.04,67.75 L345.54,67.69 L346.04,67.64 L346.54,67.58 L347.04,67.53 L347.54,67.47 L348.04,67.41 L348.54,67.36 L349.04,67.30 L349.54,67.24 L350.04,67.19 L350.54,67.13 L351.04,67.08 L351.54,67.02 L352.04,66.97 L352.54,66.91 L353.04,66.86 L353.54,66.80 L354.04,66.74 L354.54,66.69 L355.04,66.63 L355.55,66.58 L356.05,66.52 L356.55,66.47 L357.05,66.41 L357.55,66.36 L358.05,66.30 L358.55,66.25 L359.05,66.19 L359.55,66.14 L360.05,66.08 L360.55,66.03 L361.05,65.98 L361.55,65.93 L362.05,65.87 L362.55,65.82 L363.05,65.77 L363.55,65.72 L364.05,65.66 L364.55,65.61 L365.05,65.56 L365.55,65.51 L366.06,65.45 L366.56,65.40 L367.06,65.35 L367.56,65.30 L368.06,65.24 L368.56,65.19 L369.06,65.14 L369.56,65.09 L370.06,65.03 L370.56,64.98 L371.06,64.93 L371.56,64.88 L372.06,64.82 L372.56,64.77 L373.06,64.72 L373.56,64.67 L374.06,64.61 L374.56,64.56 L375.06,64.51 L375.56,64.45 L376.06,64.40 L376.57,64.35 L377.07,64.30 L377.57,64.24 L378.07,64.19 L378.57,64.14 L379.07,64.08 L379.57,64.03 L380.07,63.98 L380.57,63.92 L381.07,63.87 L381.57,63.82 L382.07,63.76 L382.57,63.71 L383.07,63.65 L383.57,63.60 L384.07,63.55 L384.57,63.49 L385.07,63.44 L385.57,63.38 L386.07,63.33 L386.57,63.27 L387.08,63.22 L387.58,63.17 L388.08,63.11 L388.58,63.06 L389.08,63.00 L389.58,62.95 L390.08,62.89 L390.58,62.84 L391.08,62.78 L391.58,62.73 L392.08,62.67 L392.58,62.61 L393.08,62.56 L393.58,62.50 L394.08,62.45 L394.58,62.39 L395.08,62.33 L395.58,62.28 L396.08,62.22 L396.58,62.16 L397.08,62.11 L397.58,62.05 L398.09,61.99 L398.59,61.94 L399.09,61.88 L399.59,61.82 L400.09,61.76 L400.59,61.71 L401.09,61.65 L401.59,61.60 L402.09,61.54 L402.59,61.48 L403.09,61.43 L403.59,61.37 L404.09,61.31 L404.59,61.26 L405.09,61.20 L405.59,61.14 L406.09,61.08 L406.59,61.03 L407.09,60.97 L407.59,60.91 L408.09,60.85 L408.60,60.79 L409.10,60.73 L409.60,60.67 L410.10,60.62 L410.60,60.56 L411.10,60.50 L411.60,60.44 L412.10,60.38 L412.60,60.32" stroke="#f00" stroke-dasharray="8.3 6.4" stroke-dashoffset="10.4"/>
<path d="M70.70,347.18 L71.22,346.59 L71.74,346.00 L72.27,345.40 L72.79,344.80 L73.31,344.19 L73.83,343.58 L74.35,342.96 L74.88,342.34 L75.40,341.72 L75.92,341.10 L76.44,340.47 L76.96,339.83 L77.48,339.20 L78.01,338.55 L78.53,337.91 L79.05,337.26 L79.55,336.64 L80.05,336.01 L80.55,335.38 L81.05,334.75 L81.55,334.11 L82.05,333.48 L82.56,332.83 L83.06,332.19 L83.56,331.54 L84.06,330.89 L84.56,330.24 L85.06,329.59 L85.56,328.93 L86.06,328.27 L86.56,327.61 L87.06,326.94 L87.56,326.28 L88.06,325.61 L88.57,324.94 L89.07,324.26 L89.57,323.59 L90.07,322.91 L90.57,322.23 L91.07,321.55 L91.57,320.87 L92.07,320.18 L92.57,319.49 L93.07,318.80 L93.57,318.11 L94.07,317.42 L94.58,316.73 L95.08,316.03 L95.58,315.34 L96.08,314.64 L96.58,313.94 L97.08,313.24 L97.58,312.53 L98.08,311.83 L98.58,311.12 L99.08,310.42 L99.58,309.71 L100.09,309.00 L100.59,308.29 L101.09,307.58 L101.59,306.87 L102.09,306.16 L102.59,305.44 L103.09,304.73 L103.59,304.02 L104.09,303.30 L104.59,302.58 L105.09,301.87 L105.59,301.15 L106.10,300.43 L106.60,299.71 L107.10,298.99 L107.60,298.27 L108.10,297.55 L108.60,296.83 L108.80,296.55 L109.30,295.82 L109.80,295.10 L110.31,294.38 L110.81,293.66 L111.31,292.93 L111.81,292.21 L112.32,291.49 L112.82,290.77 L113.32,290.05 L113.82,289.32 L114.32,288.60 L114.83,287.88 L115.33,287.16 L115.83,286.44 L116.33,285.71 L116.84,284.99 L117.34,284.27 L117.84,283.55 L118.34,282.83 L118.84,282.10 L119.35,281.38 L119.85,280.66 L120.35,279.94 L120.85,279.21 L121.35,278.49 L121.86,277.77 L122.36,277.05 L122.86,276.32 L123.36,275.60 L123.87,274.88 L124.37,274.16 L124.87,273.45 L125.37,272.74 L125.87,272.03 L126.38,271.33 L126.88,270.64 L127.38,269.95 L127.88,269.27 L128.39,268.59 L128.89,267.93 L129.39,267.27 L129.89,266.62 L130.39,265.98 L130.90,265.35 L131.40,264.74 L131.90,264.14 L132.40,263.55 L132.91,262.97 L133.41,262.41 L133.91,261.86 L134.41,261.32 L134.60,261.12 L134.91,260.80 L135.00,260.71 L135.42,260.28 L135.92,259.78 L136.42,259.28 L136.92,258.79 L137.43,258.31 L137.93,257.83 L138.43,257.36 L138.93,256.89 L139.43,256.42 L139.94,255.96 L140.44,255.49 L140.94,255.02 L141.44,254.55 L141.95,254.07 L142.45,253.59 L142.95,253.11 L143.45,252.62 L143.95,252.12 L144.46,251.61 L144.96,251.09 L145.46,250.56 L145.96,250.02 L146.46,249.47 L146.97,248.92 L147.47,248.36 L147.97,247.79 L148.47,247.22 L148.98,246.64 L149.48,246.06 L149.98,245.48 L150.48,244.89 L150.98,244.30 L151.49,243.71 L151.99,243.12 L152.49,242.52 L152.99,241.93 L153.50,241.34 L154.00,240.76 L154.50,240.17 L155.00,239.59 L155.50,239.01 L156.01,238.44 L156.51,237.87 L157.01,237.31 L157.51,236.75 L158.02,236.20 L158.52,235.66 L159.02,235.13 L159.52,234.61 L160.02,234.10 L160.53,233.59 L161.03,233.10 L161.53,232.61 L162.03,232.13 L162.54,231.66 L163.04,231.20 L163.54,230.74 L164.04,230.29 L164.54,229.85 L165.05,229.41 L165.55,228.98 L166.05,228.55 L166.55,228.13 L167.05,227.72 L167.56,227.31 L168.06,226.90 L168.56,226.50 L169.06,226.10 L169.57,225.71 L170.07,225.32 L170.57,224.94 L171.07,224.55 L171.57,224.18 L172.08,223.80 L172.58,223.43 L173.08,223.06 L173.58,222.70 L174.09,222.34 L174.59,221.98 L175.09,221.63 L175.59,221.28 L176.09,220.94 L176.60,220.60 L177.10,220.26 L177.60,219.93 L178.10,219.60 L178.61,219.27 L179.11,218.95 L179.61,218.63 L180.11,218.32 L180.61,218.00 L181.12,217.70 L181.62,217.39 L182.12,217.10 L182.62,216.80 L183.13,216.51 L183.60,216.24 L183.63,216.22 L183.63,216.22 L183.66,216.20 L183.70,216.18 L183.73,216.16 L183.76,216.15 L183.79,216.13 L183.83,216.11 L183.86,216.09 L183.89,216.07 L183.92,216.06 L183.95,216.04 L183.99,216.02 L184.02,216.00 L184.05,215.98 L184.08,215.97 L184.11,215.95 L184.13,215.94 L184.15,215.93 L184.18,215.91 L184.21,215.89 L184.24,215.88 L184.28,215.86 L184.31,215.84 L184.34,215.82 L184.37,215.80 L184.40,215.79 L184.44,215.77 L184.47,215.75 L184.50,215.73 L184.53,215.71 L184.56,215.70 L184.60,215.68 L184.63,215.66 L184.63,215.66 L184.66,215.64 L184.69,215.63 L184.73,215.61 L184.76,215.59 L184.79,215.57 L184.82,215.55 L184.85,215.54 L184.89,215.52 L184.92,215.50 L184.95,215.48 L184.98,215.47 L185.02,215.45 L185.05,215.43 L185.08,215.41 L185.11,215.40 L185.13,215.38 L185.14,215.38 L185.18,215.36 L185.21,215.34 L185.24,215.33 L185.27,215.31 L185.30,215.29 L185.34,215.27 L185.37,215.26 L185.40,215.24 L185.43,215.22 L185.47,215.20 L185.50,215.19 L185.53,215.17 L185.56,215.15 L185.59,215.14 L185.63,215.12 L185.64,215.11 L185.66,215.10 L185.69,215.08 L185.72,215.07 L185.75,215.05 L185.79,215.03 L185.82,215.01 L185.85,215.00 L185.88,214.98 L185.92,214.96 L185.95,214.95 L185.98,214.93 L186.01,214.91 L186.04,214.89 L186.08,214.88 L186.11,214.86 L186.14,214.84 L186.14,214.84 L186.17,214.83 L186.21,214.81 L186.24,214.79 L186.27,214.78 L186.30,214.76 L186.33,214.74 L186.37,214.73 L186.40,214.71 L186.43,214.69 L186.46,214.67 L186.49,214.66 L186.53,214.64 L186.56,214.62 L186.59,214.61 L186.62,214.59 L186.64,214.58 L186.66,214.57 L186.69,214.56 L186.72,214.54 L186.75,214.52 L186.78,214.51 L186.82,214.49 L186.85,214.47 L186.88,214.46 L186.91,214.44 L186.94,214.42 L186.98,214.41 L187.01,214.39 L187.04,214.37 L187.07,214.36 L187.11,214.34 L187.14,214.32 L187.14,214.32 L187.17,214.31 L187.20,214.29 L187.23,214.28 L187.27,214.26 L187.30,214.24 L187.33,214.23 L187.36,214.21 L187.39,214.19 L187.43,214.18 L187.46,214.16 L187.49,214.14 L187.52,214.13 L187.56,214.11 L187.59,214.10 L187.62,214.08 L187.65,214.07 L187.65,214.06 L187.68,214.05 L187.72,214.03 L187.75,214.01 L187.78,214.00 L187.81,213.98 L187.85,213.97 L187.88,213.95 L187.91,213.93 L187.94,213.92 L187.97,213.90 L188.01,213.89 L188.04,213.87 L188.07,213.85 L188.10,213.84 L188.13,213.82 L188.15,213.82 L188.17,213.81 L188.20,213.79 L188.23,213.77 L188.26,213.76 L188.30,213.74 L188.33,213.73 L188.36,213.71 L188.39,213.69 L188.42,213.68 L188.46,213.66 L188.49,213.65 L188.52,213.63 L188.55,213.61 L188.58,213.60 L188.62,213.58 L188.65,213.57 L188.65,213.57 L188.68,213.55 L188.71,213.54 L188.75,213.52 L188.78,213.51 L188.81,213.49 L188.84,213.47 L188.87,213.46 L188.91,213.44 L188.94,213.43 L188.97,213.41 L189.00,213.40 L189.04,213.38 L189.07,213.36 L189.10,213.35 L189.13,213.33 L189.15,213.32 L189.16,213.32 L189.20,213.30 L189.23,213.29 L189.26,213.27 L189.29,213.26 L189.32,213.24 L189.36,213.23 L189.39,213.21 L189.42,213.20 L189.45,213.18 L189.49,213.16 L189.52,213.15 L189.55,213.13 L189.58,213.12 L189.61,213.10 L189.65,213.09 L189.65,213.09 L189.68,213.07 L189.71,213.06 L189.74,213.04 L189.77,213.03 L189.81,213.01 L189.84,213.00 L189.87,212.98 L189.90,212.97 L189.94,212.95 L189.97,212.94 L190.00,212.92 L190.16,212.85 L190.66,212.62 L191.16,212.39 L191.66,212.17 L192.16,211.95 L192.67,211.74 L193.17,211.53 L193.67,211.32 L194.17,211.12 L194.68,210.92 L195.18,210.73 L195.68,210.54 L196.18,210.35 L196.30,210.31 L196.33,210.30 L196.37,210.28 L196.40,210.27 L196.43,210.26 L196.46,210.25 L196.50,210.24 L196.53,210.23 L196.56,210.21 L196.59,210.20 L196.63,210.19 L196.66,210.18 L196.68,210.17 L196.69,210.17 L196.72,210.16 L196.76,210.14 L196.79,210.13 L196.82,210.12 L196.85,210.11 L196.89,210.10 L196.92,210.09 L196.95,210.08 L196.98,210.06 L197.02,210.05 L197.05,210.04 L197.08,210.03 L197.11,210.02 L197.15,210.01 L197.18,210.00 L197.19,209.99 L197.21,209.98 L197.24,209.97 L197.28,209.96 L197.31,209.95 L197.34,209.94 L197.37,209.93 L197.41,209.92 L197.44,209.91 L197.47,209.90 L197.50,209.88 L197.54,209.87 L197.57,209.86 L197.60,209.85 L197.63,209.84 L197.67,209.83 L197.69,209.82 L197.70,209.82 L197.73,209.81 L197.76,209.80 L197.80,209.78 L197.83,209.77 L197.86,209.76 L197.89,209.75 L197.93,209.74 L197.96,209.73 L197.99,209.72 L198.03,209.71 L198.06,209.70 L198.09,209.69 L198.12,209.68 L198.16,209.66 L198.19,209.65 L198.19,209.65 L198.22,209.64 L198.25,209.63 L198.29,209.62 L198.30,209.62 L198.32,209.80 L198.35,209.80 L198.38,209.81 L198.42,209.81 L198.45,209.82 L198.48,209.83 L198.51,209.84 L198.55,209.85 L198.58,209.87 L198.61,209.88 L198.64,209.90 L198.68,209.92 L198.69,209.93 L198.71,209.94 L198.74,209.96 L198.77,209.98 L198.81,210.01 L198.84,210.04 L198.87,210.06 L198.90,210.09 L198.94,210.12 L198.97,210.15 L199.00,210.18 L199.03,210.22 L199.07,210.25 L199.10,210.29 L199.13,210.32 L199.16,210.36 L199.20,210.39 L199.20,210.40 L199.23,210.44 L199.26,210.49 L199.29,210.56 L199.33,210.63 L199.36,210.72 L199.39,210.81 L199.42,210.91 L199.46,211.02 L199.49,211.14 L199.52,211.26 L199.56,211.39 L199.59,211.52 L199.62,211.65 L199.65,211.79 L199.69,211.93 L199.70,211.99 L199.72,212.08 L199.75,212.26 L199.78,212.45 L199.82,212.67 L199.85,212.91 L199.88,213.16 L199.91,213.42 L199.95,213.69 L199.98,213.96 L200.01,214.23 L200.04,214.49 L200.08,214.75 L200.11,215.00 L200.14,215.23 L200.17,215.44 L200.20,215.60 L200.21,215.63 L200.24,215.82 L200.27,216.00 L200.30,216.18 L200.34,216.35 L200.37,216.53 L200.40,216.70 L200.43,216.87 L200.47,217.03 L200.50,217.19 L200.53,217.35 L200.56,217.51 L200.60,217.66 L200.63,217.80 L200.66,217.94 L200.69,218.08 L200.73,218.21 L200.76,218.33 L200.79,218.45 L200.82,218.56 L200.86,218.67 L200.89,218.77 L200.90,218.80 L200.92,218.86 L200.95,218.96 L200.99,219.05 L201.02,219.14 L201.05,219.23 L201.08,219.32 L201.12,219.41 L201.15,219.49 L201.40,220.04 L201.60,220.30" stroke="#00f" stroke-dasharray="6.72 3.56 1.58 3.37" stroke-dashoffset="0.4"/>
<path d="M201.60,220.30 L201.90,220.53 L202.40,220.78 L202.90,220.92 L203.40,221.03 L203.90,221.09 L204.10,221.10 L204.40,221.17 L204.90,220.88 L205.40,220.59 L205.90,220.29 L206.41,219.99 L206.91,219.68 L207.41,219.36 L207.91,219.04 L208.41,218.72 L208.91,218.39 L209.41,218.06 L209.91,217.73 L210.41,217.39 L210.91,217.06 L211.41,216.72 L211.91,216.39 L212.41,216.05 L212.91,215.72 L213.41,215.39 L213.91,215.06 L214.41,214.73 L214.91,214.41 L215.41,214.09 L215.91,213.77 L216.41,213.46 L216.92,213.16 L217.42,212.86 L217.92,212.56 L218.42,212.27 L218.92,211.99 L219.42,211.71 L219.92,211.44 L220.42,211.17 L220.92,210.91 L221.42,210.64 L221.92,210.39 L222.42,210.14 L222.92,209.89 L223.42,209.64 L223.92,209.40 L224.42,209.15 L224.92,208.92 L225.42,208.68 L225.92,208.45 L226.42,208.21 L226.92,207.98 L227.42,207.76 L227.93,207.53 L228.43,207.30 L228.93,207.07 L229.43,206.85 L229.93,206.62 L230.43,206.40 L230.93,206.17 L231.43,205.95 L231.93,205.72 L232.43,205.50 L232.93,205.27 L233.43,205.04 L233.93,204.81 L234.43,204.58 L234.93,204.35 L235.43,204.12 L235.93,203.89 L236.43,203.66 L236.93,203.44 L237.43,203.21 L237.93,202.99 L238.44,202.76 L238.94,202.54 L239.44,202.32 L239.94,202.11 L240.44,201.89 L240.94,201.68 L241.44,201.47 L241.94,201.27 L242.44,201.07 L242.94,200.87 L243.44,200.68 L243.94,200.49 L244.44,200.30 L244.94,200.11 L245.44,199.93 L245.94,199.75 L246.44,199.58 L246.94,199.41 L247.44,199.24 L247.94,199.07 L248.44,198.90 L248.95,198.74 L249.45,198.58 L249.95,198.42 L250.45,198.27 L250.95,198.12 L251.45,197.97 L251.95,197.82 L252.45,197.68 L252.95,197.53 L253.45,197.39 L253.95,197.25 L254.45,197.12 L254.95,196.98 L255.45,196.85 L255.95,196.72 L256.45,196.59 L256.95,196.46 L257.45,196.33 L257.95,196.21 L258.45,196.08 L258.95,195.96 L259.46,195.84 L259.96,195.72 L260.46,195.61 L260.96,195.49 L261.46,195.38 L261.96,195.26 L262.00,195.25" stroke="#00f" stroke-dasharray="6.62 3.51 1.56 3.31" stroke-dashoffset="8.4"/>
<path d="M262.00,195.25 L262.46,195.15 L262.96,195.04 L263.46,194.93 L263.96,194.82 L264.46,194.71 L264.96,194.60 L265.46,194.49 L265.96,194.39 L266.46,194.28 L266.96,194.17 L267.46,194.07 L267.96,193.96 L268.46,193.86 L268.96,193.76 L269.46,193.65 L269.96,193.55 L270.47,193.45 L270.97,193.35 L271.47,193.24 L271.97,193.14 L272.47,193.04 L272.97,192.94 L273.47,192.84 L273.97,192.74 L274.47,192.64 L274.97,192.54 L275.47,192.45 L275.97,192.35 L276.47,192.25 L276.97,192.15 L277.47,192.06 L277.97,191.96 L278.47,191.87 L278.97,191.77 L279.47,191.67 L279.97,191.58 L280.47,191.49 L280.98,191.39 L281.48,191.30 L281.98,191.21 L282.48,191.11 L282.98,191.02 L283.48,190.93 L283.98,190.84 L284.48,190.75 L284.98,190.66 L285.48,190.57 L285.98,190.48 L286.48,190.39 L286.98,190.30 L287.48,190.21 L287.98,190.12 L288.48,190.03 L288.98,189.95 L289.48,189.86 L289.98,189.77 L290.48,189.68 L290.98,189.60 L291.49,189.51 L291.99,189.43 L292.49,189.34 L292.99,189.26 L293.49,189.17 L293.99,189.09 L294.49,189.01 L294.99,188.92 L295.49,188.84 L295.99,188.76 L296.49,188.68 L296.99,188.60 L297.49,188.51 L297.99,188.43 L298.49,188.35 L298.99,188.27 L299.49,188.19 L299.99,188.11 L300.49,188.03 L300.99,187.96 L301.49,187.88 L302.00,187.80 L302.50,187.72 L303.00,187.64 L303.50,187.57 L304.00,187.49 L304.50,187.42 L305.00,187.34 L305.50,187.26 L306.00,187.19 L306.50,187.11 L307.00,187.04 L307.50,186.96 L308.00,186.89 L308.50,186.82 L309.00,186.74 L309.50,186.67 L310.00,186.60 L310.50,186.53 L311.00,186.46 L311.50,186.38 L312.00,186.31 L312.50,186.24 L313.01,186.17 L313.51,186.10 L314.01,186.03 L314.51,185.96 L315.01,185.89 L315.51,185.82 L316.01,185.76 L316.51,185.69 L317.01,185.62 L317.51,185.55 L318.01,185.48 L318.51,185.42 L319.01,185.35 L319.51,185.28 L320.01,185.22 L320.51,185.15 L321.01,185.09 L321.51,185.02 L322.01,184.96 L322.51,184.89 L323.01,184.83 L323.52,184.76 L324.02,184.70 L324.52,184.64 L325.02,184.58 L325.52,184.51 L326.02,184.45 L326.52,184.39 L327.02,184.33 L327.52,184.26 L328.02,184.20 L328.52,184.14 L329.02,184.08 L329.52,184.02 L330.02,183.96 L330.52,183.90 L331.02,183.84 L331.52,183.78 L332.02,183.72 L332.52,183.67 L333.02,183.61 L333.52,183.55 L334.03,183.49 L334.53,183.43 L335.03,183.38 L335.53,183.32 L336.03,183.26 L336.53,183.21 L337.03,183.15 L337.53,183.10 L338.03,183.04 L338.53,182.99 L339.03,182.93 L339.53,182.88 L340.03,182.82 L340.53,182.77 L341.03,182.71 L341.53,182.66 L342.03,182.61 L342.53,182.55 L343.03,182.50 L343.53,182.45 L344.03,182.40 L344.54,182.34 L345.04,182.29 L345.54,182.24 L346.04,182.19 L346.54,182.14 L347.04,182.09 L347.54,182.04 L348.04,181.99 L348.54,181.94 L349.04,181.89 L349.54,181.84 L350.04,181.79 L350.54,181.74 L351.04,181.69 L351.54,181.64 L352.04,181.59 L352.54,181.54 L353.04,181.50 L353.54,181.45 L354.04,181.40 L354.54,181.35 L355.04,181.31 L355.55,181.26 L356.05,181.21 L356.55,181.17 L357.05,181.12 L357.55,181.08 L358.05,181.03 L358.55,180.99 L359.05,180.94 L359.55,180.90 L360.05,180.85 L360.55,180.81 L361.05,180.76 L361.55,180.72 L362.05,180.67 L362.55,180.63 L363.05,180.59 L363.55,180.54 L364.05,180.50 L364.55,180.46 L365.05,180.42 L365.55,180.37 L366.06,180.33 L366.56,180.29 L367.06,180.25 L367.56,180.21 L368.06,180.17 L368.56,180.12 L369.06,180.08 L369.56,180.04 L370.06,180.00 L370.56,179.96 L371.06,179.92 L371.56,179.88 L372.06,179.84 L372.56,179.80 L373.06,179.76 L373.56,179.73 L374.06,179.69 L374.56,179.65 L375.06,179.61 L375.56,179.57 L376.06,179.53 L376.57,179.49 L377.07,179.46 L377.57,179.42 L378.07,179.38 L378.57,179.35 L379.07,179.31 L379.57,179.27 L380.07,179.23 L380.57,179.20 L381.07,179.16 L381.57,179.13 L382.07,179.09 L382.57,179.05 L383.07,179.02 L383.57,178.98 L384.07,178.95 L384.57,178.91 L385.07,178.88 L385.57,178.84 L386.07,178.81 L386.57,178.77 L387.08,178.74 L387.58,178.71 L388.08,178.67 L388.58,178.64 L389.08,178.60 L389.58,178.57 L390.08,178.54 L390.58,178.50 L391.08,178.47 L391.58,178.44 L392.08,178.40 L392.58,178.37 L393.08,178.34 L393.58,178.31 L394.08,178.28 L394.58,178.24 L395.08,178.21 L395.58,178.18 L396.08,178.15 L396.58,178.12 L397.08,178.09 L397.58,178.05 L398.09,178.02 L398.59,177.99 L399.09,177.96 L399.59,177.93 L400.09,177.90 L400.59,177.87 L401.09,177.84 L401.59,177.81 L402.09,177.78 L402.59,177.75 L403.09,177.72 L403.59,177.69 L404.09,177.66 L404.59,177.63 L405.09,177.60 L405.59,177.57 L406.09,177.54 L406.59,177.52 L407.09,177.49 L407.59,177.46 L408.09,177.43 L408.60,177.40 L409.10,177.37 L409.60,177.34 L410.10,177.32 L410.60,177.29 L411.10,177.26 L411.60,177.23 L412.10,177.21 L412.60,177.18" stroke="#00f" stroke-dasharray="6.0 3.15 1.4 3.0" stroke-dashoffset="13.05"/>
<path d="M183.60,362.90 L184.40,326.00 L184.90,306.00 L185.60,270.00 L185.80,240.00 L186.10,223.00 L186.50,207.00 L187.10,188.00 L187.60,160.00 L187.90,130.00 L188.20,100.00 L188.50,80.30 L188.85,100.00 L189.20,130.00 L189.35,190.00 L189.45,240.00 L189.80,325.00 L189.95,362.90" stroke="#f0f" stroke-dasharray="1.6 3.55"/>
<path d="M196.30,362.90 L196.40,325.00 L196.90,310.00 L197.70,295.00 L198.60,272.00 L199.10,228.00 L199.60,175.00 L199.90,160.00 L200.15,175.00 L200.35,190.00 L200.60,270.00 L201.10,325.00 L201.15,362.90" stroke="#f0f" stroke-dasharray="1.6 3.55"/>
<path d="M70.7,268.20 L413.05,234.45" stroke="#ff8000" stroke-dasharray="6.8 3.55 1.6 3.55 1.6 3.55 1.6 3.55" stroke-dashoffset="0.5"/>
</g>
<g fill="none" stroke="#000" stroke-width="1">
<rect x="70.7" y="45.0" width="342.35" height="318.2"/>
<path d="M101.28,363.2 v-3.4 M101.28,45.0 v3.4 M134.41,363.2 v-3.4 M134.41,45.0 v3.4 M160.10,363.2 v-3.4 M160.10,45.0 v3.4 M181.09,363.2 v-3.4 M181.09,45.0 v3.4 M198.84,363.2 v-3.4 M198.84,45.0 v3.4 M214.21,363.2 v-3.4 M214.21,45.0 v3.4 M227.77,363.2 v-3.4 M227.77,45.0 v3.4 M239.90,363.2 v-6.5 M239.90,45.0 v6.5 M319.70,363.2 v-3.4 M319.70,45.0 v3.4 M366.38,363.2 v-3.4 M366.38,45.0 v3.4 M399.51,363.2 v-3.4 M399.51,45.0 v3.4 M70.7,346.21 h3.4 M413.05,346.21 h-3.4 M70.7,334.17 h3.4 M413.05,334.17 h-3.4 M70.7,324.83 h3.4 M413.05,324.83 h-3.4 M70.7,317.19 h3.4 M413.05,317.19 h-3.4 M70.7,310.74 h3.4 M413.05,310.74 h-3.4 M70.7,305.15 h3.4 M413.05,305.15 h-3.4 M70.7,300.22 h3.4 M413.05,300.22 h-3.4 M70.7,295.81 h6.5 M413.05,295.81 h-6.5 M70.7,266.79 h3.4 M413.05,266.79 h-3.4 M70.7,249.82 h3.4 M413.05,249.82 h-3.4 M70.7,237.78 h3.4 M413.05,237.78 h-3.4 M70.7,228.44 h3.4 M413.05,228.44 h-3.4 M70.7,220.80 h3.4 M413.05,220.80 h-3.4 M70.7,214.35 h3.4 M413.05,214.35 h-3.4 M70.7,208.76 h3.4 M413.05,208.76 h-3.4 M70.7,203.83 h3.4 M413.05,203.83 h-3.4 M70.7,199.42 h6.5 M413.05,199.42 h-6.5 M70.7,170.40 h3.4 M413.05,170.40 h-3.4 M70.7,153.43 h3.4 M413.05,153.43 h-3.4 M70.7,141.39 h3.4 M413.05,141.39 h-3.4 M70.7,132.05 h3.4 M413.05,132.05 h-3.4 M70.7,124.41 h3.4 M413.05,124.41 h-3.4 M70.7,117.96 h3.4 M413.05,117.96 h-3.4 M70.7,112.37 h3.4 M413.05,112.37 h-3.4 M70.7,107.44 h3.4 M413.05,107.44 h-3.4 M70.7,103.03 h6.5 M413.05,103.03 h-6.5 M70.7,74.01 h3.4 M413.05,74.01 h-3.4 M70.7,57.04 h3.4 M413.05,57.04 h-3.4"/>
</g>
<g fill="none" stroke-width="1">
<path d="M424,108.2 H470.7" stroke="#000"/>
<path d="M424,129.8 H470.7" stroke="#f00" stroke-dasharray="8.3 6.4"/>
<path d="M424,151.1 H468" stroke="#00f" stroke-dasharray="6.8 3.6 1.6 3.4"/>
<path d="M424,172.2 H468" stroke="#f0f" stroke-dasharray="1.6 3.55"/>
<path d="M424,193.4 H468" stroke="#ff8000" stroke-dasharray="6.8 3.55 1.6 3.55 1.6 3.55 1.6 3.55"/>
</g>
<text x="473.7" y="112.4" fill="#000" font-size="14.5" letter-spacing="-0.15">TOTAL</text>
<text x="473.7" y="133.7" fill="#f00" font-size="14.5">MYTorusZ</text>
<text x="473.7" y="155.3" fill="#00f" font-size="14.5">MYTorusS</text>
<text x="473.7" y="176.6" fill="#f0f" font-size="14.5">MYTorusL</text>
<text x="473.7" y="197.9" fill="#ff8000" font-size="14.5" word-spacing="-0.8">Second PL</text>
<text x="159.6" y="378.5" text-anchor="middle">5</text>
<text x="239.3" y="378.5" text-anchor="middle">10</text>
<text x="319.2" y="378.5" text-anchor="middle">20</text>
<text x="197.6" y="395.2" textLength="77.0" lengthAdjust="spacingAndGlyphs">Energy (keV)</text>
<text x="369.6" y="348.2" font-size="23.5">(b)</text>
<text transform="translate(62.0,104.5) rotate(-90)" text-anchor="middle">0.1</text>
<text transform="translate(62.0,200.9) rotate(-90)" text-anchor="middle">0.01</text>
<text transform="translate(62.0,296.6) rotate(-90)" text-anchor="middle">10<tspan font-size="8.2" dy="-4.8">−3</tspan></text>
<text transform="translate(36.5,323.6) rotate(-90)" word-spacing="-1.0"><tspan font-style="italic">E f(E)</tspan> (keV<tspan font-size="8.2" dy="-4.8">2</tspan><tspan dy="4.8"> photons cm</tspan><tspan font-size="8.2" dy="-4.8">−2</tspan><tspan dy="4.8"> s</tspan><tspan font-size="8.2" dy="-4.8">−1</tspan><tspan dy="4.8"> keV</tspan><tspan font-size="8.2" dy="-4.8">−1</tspan><tspan dy="4.8">)</tspan></text>
</svg>
</body></html>
